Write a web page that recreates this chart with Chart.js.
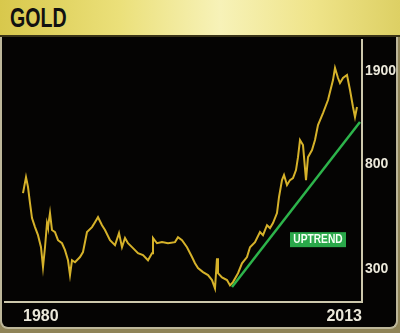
<!DOCTYPE html>
<html>
<head>
<meta charset="utf-8">
<script src="https://cdn.jsdelivr.net/npm/chart.js@4/dist/chart.umd.min.js"></script>
<style>
  html, body { margin: 0; padding: 0; }
  body { width: 400px; height: 333px; background: #8f8458; position: relative; overflow: hidden; }
  #panel {
    position: absolute; left: 0; top: 30px; width: 394px; height: 297px;
    background: #050403; border: 2px solid #bdb79a; border-top: none;
    border-radius: 0 0 8px 8px;
  }
  #header {
    position: absolute; left: 0; top: 0; width: 400px; height: 35px;
    background: linear-gradient(90deg, #d8c84c 0%, #ebe07a 30%, #f7f2b8 55%, #efe48a 78%, #ddd064 100%);
    border-bottom: 2px solid #3a3418;
    z-index: 2;
  }
  #header span {
    position: absolute; left: 10px; top: 2px;
    font: bold 28px "Liberation Sans", sans-serif;
    color: #111;
    transform: scaleX(0.7); transform-origin: 0 0;
  }
  #chart { position: absolute; left: 0; top: 0; z-index: 1; }
</style>
</head>
<body>
<div id="panel"></div>
<div id="header"><span>GOLD</span></div>
<canvas id="chart" width="400" height="333"></canvas>
<script>
// gold price (year, USD/oz)
const years = [
  1980.0, 1980.3, 1980.5, 1980.7, 1980.9, 1981.2, 1981.5, 1981.8, 1982.0, 1982.2,
  1982.4, 1982.5, 1982.7, 1982.9, 1983.2, 1983.5, 1983.9, 1984.2, 1984.5, 1984.7,
  1984.9, 1985.2, 1985.7, 1986.0, 1986.4, 1986.9, 1987.2, 1987.5, 1987.9, 1988.2,
  1988.7, 1989.2, 1989.6, 1989.9, 1990.2, 1990.5, 1991.0, 1991.5, 1992.0, 1992.5,
  1992.9, 1993.0, 1993.4, 1993.9, 1994.5, 1995.2, 1995.5, 1995.9, 1996.4, 1996.9,
  1997.2, 1997.5, 1998.0, 1998.5, 1998.9, 1999.2, 1999.4, 1999.5, 1999.9, 2000.4,
  2000.7, 2001.0, 2001.5, 2001.9, 2002.4, 2002.7, 2003.2, 2003.7, 2004.0, 2004.4,
  2004.7, 2005.0, 2005.4, 2005.6, 2005.9, 2006.1, 2006.4, 2006.7, 2007.0, 2007.3,
  2007.5, 2007.7, 2008.0, 2008.3, 2008.5, 2008.9, 2009.2, 2009.5, 2010.0, 2010.5,
  2011.0, 2011.2, 2011.5, 2011.7, 2012.0, 2012.4, 2012.7, 2013.0, 2013.2, 2013.4
];
const prices = [
  609, 707, 645, 555, 483, 444, 412, 368, 306, 368,
  461, 444, 506, 432, 424, 393, 382, 358, 326, 284,
  326, 320, 336, 352, 424, 444, 465, 487, 452, 432,
  393, 375, 420, 368, 401, 382, 365, 348, 342, 326,
  348, 401, 382, 386, 382, 386, 404, 393, 368, 336,
  317, 303, 292, 284, 271, 251, 332, 289, 278, 271,
  258, 266, 289, 317, 336, 368, 386, 424, 412, 452,
  440, 461, 506, 587, 688, 721, 657, 688, 701, 755,
  852, 999, 953, 688, 852, 910, 999, 1149, 1285, 1450,
  1747, 1954, 1780, 1699, 1780, 1830, 1592, 1359, 1238, 1359
];

// uptrend line end points
const trendYears = [2000.9, 2013.7];
const trendPrices = [254, 1181];

const yTicks = [300, 800, 1900];
const xTicks = [1980, 2013.9];
const xTickLabels = ['1980', '2013'];

const UPTREND_LABEL = { text: 'UPTREND', year: 2009.5, price: 395 };

const labelPlugin = {
  id: 'uptrendLabel',
  afterDatasetsDraw(chart) {
    const { ctx, scales } = chart;
    const cx = scales.x.getPixelForValue(UPTREND_LABEL.year);
    const cy = scales.y.getPixelForValue(UPTREND_LABEL.price);
    ctx.save();
    ctx.fillStyle = '#2aa84a';
    ctx.fillRect(cx - 28, cy - 7.5, 56, 15);
    ctx.translate(cx, cy + 0.5);
    ctx.scale(0.85, 1);
    ctx.fillStyle = '#f4fff4';
    ctx.font = 'bold 12px "Liberation Sans", sans-serif';
    ctx.textAlign = 'center';
    ctx.textBaseline = 'middle';
    ctx.fillText(UPTREND_LABEL.text, 0, 0);
    ctx.restore();
  }
};

new Chart(document.getElementById('chart'), {
  type: 'line',
  data: {
    datasets: [{
      data: years.map((y, i) => ({ x: y, y: prices[i] })),
      borderColor: '#d6b22a',
      borderWidth: 2,
      pointRadius: 0,
      tension: 0,
      order: 1
    }, {
      data: trendYears.map((y, i) => ({ x: y, y: trendPrices[i] })),
      borderColor: '#2db44b',
      borderWidth: 2.5,
      pointRadius: 0,
      order: 0
    }]
  },
  options: {
    responsive: false,
    animation: false,
    devicePixelRatio: 1,
    layout: { padding: { left: 5, top: 40, right: 0, bottom: 0 } },
    plugins: { legend: { display: false }, tooltip: { enabled: false } },
    scales: {
      x: {
        type: 'linear',
        min: 1978.2,
        max: 2013.9,
        grid: { display: false, drawTicks: false },
        border: { display: true, color: '#cdc8ac', width: 2 },
        afterBuildTicks: s => { s.ticks = xTicks.map(v => ({ value: v })); },
        afterFit: s => { s.height = 31; },
        ticks: {
          align: 'inner',
          padding: 5,
          maxRotation: 0,
          autoSkip: false,
          color: '#ebe8da',
          font: { family: '"Liberation Sans", sans-serif', size: 16, weight: 'bold' },
          callback: (v, i) => xTickLabels[i]
        }
      },
      y: {
        type: 'logarithmic',
        position: 'right',
        min: 221,
        max: 2537,
        grid: { display: false, drawTicks: false },
        border: { display: true, color: '#cdc8ac', width: 2 },
        afterBuildTicks: s => { s.ticks = yTicks.map(v => ({ value: v })); },
        afterFit: s => { s.width = 38; },
        ticks: {
          padding: 3,
          autoSkip: false,
          color: '#ebe8da',
          font: { family: '"Liberation Sans", sans-serif', size: 14, weight: 'bold' },
          callback: v => String(v)
        }
      }
    }
  },
  plugins: [labelPlugin]
});
</script>
</body>
</html>
